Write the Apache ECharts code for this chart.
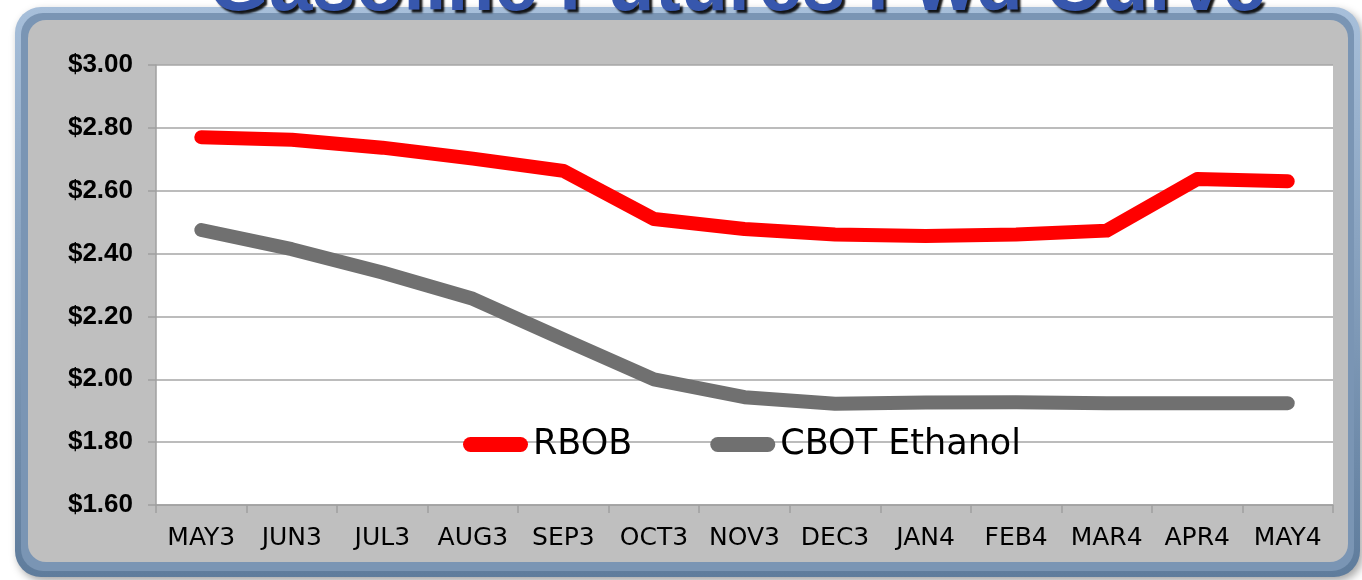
<!DOCTYPE html>
<html>
<head>
<meta charset="utf-8">
<script src="https://cdn.jsdelivr.net/npm/echarts@6/dist/echarts.min.js"></script>
<style>
html,body{margin:0;padding:0;background:#ffffff;}
#chart{width:1362px;height:580px;}
</style>
</head>
<body>
<div id="chart"></div>
<script>
var titleText = 'Gasoline Futures Fwd Curve';
var categories = ['MAY3','JUN3','JUL3','AUG3','SEP3','OCT3','NOV3','DEC3','JAN4','FEB4','MAR4','APR4','MAY4'];
var rbob = [2.770, 2.762, 2.737, 2.702, 2.663, 2.510, 2.478, 2.461, 2.456, 2.461, 2.473, 2.637, 2.630];
var ethanol = [2.475, 2.414, 2.340, 2.256, 2.127, 2.000, 1.943, 1.922, 1.926, 1.927, 1.924, 1.924, 1.924];
var seriesNames = ['RBOB', 'CBOT Ethanol'];
var seriesColors = ['#ff0000', '#707070'];

var chart = echarts.init(document.getElementById('chart'), null, {renderer: 'canvas'});
var pill = 'path://M7.5,0 H57.5 A7.5,7.5 0 0 1 57.5,15 H7.5 A7.5,7.5 0 0 1 7.5,0 Z';

var option = {
  backgroundColor: '#ffffff',
  animation: false,
  graphic: [
    {type: 'rect', z: -10, shape: {x: 15, y: 7, width: 1345, height: 570, r: 26},
     style: {fill: new echarts.graphic.LinearGradient(0, 0, 0, 1, [{offset: 0, color: '#a7bfda'}, {offset: 1, color: '#5f7c9c'}]),
             shadowColor: 'rgba(0,0,0,0.35)', shadowBlur: 8, shadowOffsetX: 3, shadowOffsetY: 4}},
    {type: 'rect', z: -9, shape: {x: 21, y: 13, width: 1333, height: 558, r: 22},
     style: {fill: '#7a95b4'}},
    {type: 'rect', z: -8, shape: {x: 28, y: 20, width: 1320, height: 542, r: 18},
     style: {fill: '#bfbfbf'}},
    {type: 'text', z: 100, style: {
      text: titleText, x: 737, y: -12, textAlign: 'center', textVerticalAlign: 'middle',
      font: 'bold 78px "Liberation Sans", Arial, sans-serif', fill: '#3757ad',
      textShadowColor: 'rgba(0,0,0,0.9)', textShadowBlur: 2, textShadowOffsetX: 3, textShadowOffsetY: 3,
      shadowColor: 'rgba(0,0,0,0.9)', shadowBlur: 2, shadowOffsetX: 3, shadowOffsetY: 3
    }}
  ],
  grid: {left: 156, right: 29, top: 65, bottom: 75, show: true, backgroundColor: '#ffffff', borderWidth: 0},
  legend: {
    left: 463, top: 427, padding: 0, itemGap: 78, itemWidth: 65, itemHeight: 15,
    icon: pill,
    textStyle: {fontFamily: '"DejaVu Sans", sans-serif', fontSize: 35, color: '#000000'},
    data: seriesNames
  },
  xAxis: {
    type: 'category', data: categories, boundaryGap: true,
    axisLine: {show: true, lineStyle: {color: '#a0a0a0', width: 1.5}},
    axisTick: {show: true, length: 8, lineStyle: {color: '#a0a0a0', width: 1.5}},
    axisLabel: {color: '#000000', fontFamily: '"DejaVu Sans", sans-serif', fontSize: 25, margin: 21, interval: 0},
    splitLine: {show: false}
  },
  yAxis: {
    type: 'value', min: 1.6, max: 3.0, interval: 0.2,
    axisLine: {show: true, lineStyle: {color: '#a0a0a0', width: 1.5}},
    axisTick: {show: true, length: 8, lineStyle: {color: '#a0a0a0', width: 1.5}},
    axisLabel: {color: '#000000', fontFamily: '"Liberation Sans", Arial, sans-serif', fontWeight: 'bold', fontSize: 26, margin: 23,
      formatter: function (v) { return '$' + v.toFixed(2); }},
    splitLine: {show: true, lineStyle: {color: '#a6a6a6', width: 1.5}}
  },
  series: [
    {name: seriesNames[0], type: 'line', data: rbob, symbol: 'none', smooth: false,
     itemStyle: {color: seriesColors[0]},
     lineStyle: {color: seriesColors[0], width: 14, cap: 'round', join: 'round'}},
    {name: seriesNames[1], type: 'line', data: ethanol, symbol: 'none', smooth: false,
     itemStyle: {color: seriesColors[1]},
     lineStyle: {color: seriesColors[1], width: 14, cap: 'round', join: 'round'}}
  ]
};
chart.setOption(option);
</script>
</body>
</html>
